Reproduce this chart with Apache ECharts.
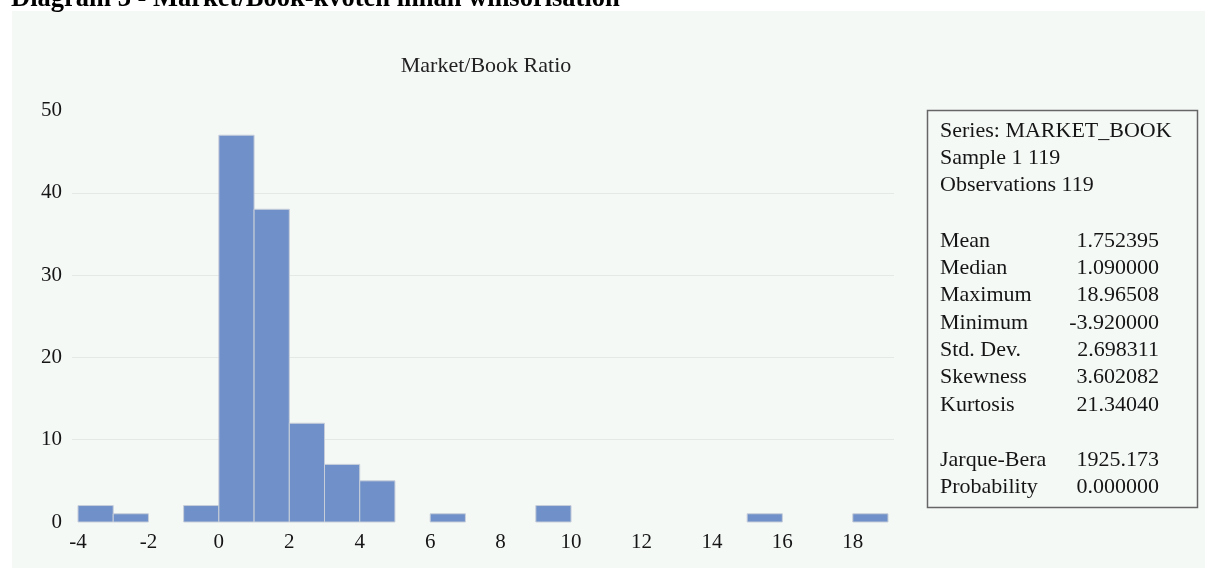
<!DOCTYPE html>
<html>
<head>
<meta charset="utf-8">
<script src="https://cdn.jsdelivr.net/npm/echarts@6/dist/echarts.min.js"></script>
<style>
  html, body { margin: 0; padding: 0; background: #ffffff; }
  #panel { position: absolute; left: 12px; top: 11px; width: 1193px; height: 557px; background: #f5f9f6; }
  #chart { position: absolute; left: 0; top: 0; width: 1205px; height: 569px; }
</style>
</head>
<body>
<div id="panel"></div>
<div id="chart"></div>
<script>
// Histogram bins (width 1) and their counts
const binStart = [-4, -3, -1, 0, 1, 2, 3, 4, 6, 9, 15, 18];
const binCount = [2, 1, 2, 47, 38, 12, 7, 5, 1, 2, 1, 1];
const binWidth = 1;

// Axis tick labels
const xTicks = [-4, -2, 0, 2, 4, 6, 8, 10, 12, 14, 16, 18];

// Descriptive statistics block
const headerLines = ['Series: MARKET_BOOK', 'Sample 1 119', 'Observations 119'];
const statNames = ['Mean', 'Median', 'Maximum', 'Minimum', 'Std. Dev.', 'Skewness', 'Kurtosis'];
const statValues = ['1.752395', '1.090000', '18.96508', '-3.920000', '2.698311', '3.602082', '21.34040'];
const testNames = ['Jarque-Bera', 'Probability'];
const testValues = ['1925.173', '0.000000'];

const FONT = '"Liberation Serif", "DejaVu Serif", serif';
const TXT = '#151515';
const chart = echarts.init(document.getElementById('chart'), null, { renderer: 'canvas' });

const histData = binStart.map((s, i) => [s, s + binWidth, binCount[i]]);

// Text elements for the statistics box
const boxText = [];
const lineH = 27.3;
const boxFont = '22px ' + FONT;
function leftText(t, y) {
  return { type: 'text', left: 940, top: y, style: { text: t, font: boxFont, fill: TXT } };
}
function rightText(t, y) {
  return { type: 'text', right: 1205 - 1159, top: y, style: { text: t, font: boxFont, fill: TXT } };
}
headerLines.forEach((t, i) => boxText.push(leftText(t, 120 + i * lineH)));
statNames.forEach((t, i) => {
  const y = 230 + i * lineH;
  boxText.push(leftText(t, y), rightText(statValues[i], y));
});
testNames.forEach((t, i) => {
  const y = 449 + i * lineH;
  boxText.push(leftText(t, y), rightText(testValues[i], y));
});

chart.setOption({
  backgroundColor: 'transparent',
  animation: false,
  title: {
    text: 'Market/Book Ratio',
    left: 481, top: 50,
    textAlign: 'center',
    textStyle: { fontFamily: FONT, fontSize: 22, fontWeight: 'normal', color: '#222' }
  },
  grid: { left: 72, right: 311, top: 110.5, bottom: 47 },
  xAxis: {
    type: 'value',
    min: -4.17, max: 19.17,
    axisLine: { show: false },
    axisTick: { show: false },
    splitLine: { show: false },
    axisLabel: {
      customValues: xTicks,
      margin: 10,
      fontFamily: FONT, fontSize: 21, color: TXT
    }
  },
  yAxis: {
    type: 'value',
    min: 0, max: 50, interval: 10,
    axisLine: { show: false },
    axisTick: { show: false },
    axisLabel: { margin: 10, fontFamily: FONT, fontSize: 21, color: TXT },
    splitLine: { show: true, showMinLine: false, showMaxLine: false, lineStyle: { color: '#e4e9e5', width: 1 } }
  },
  series: [{
    type: 'custom',
    data: histData,
    encode: { x: [0, 1], y: 2 },
    renderItem: function (params, api) {
      const p0 = api.coord([api.value(0), api.value(2)]);
      const p1 = api.coord([api.value(1), 0]);
      return {
        type: 'rect',
        shape: { x: p0[0], y: p0[1], width: p1[0] - p0[0], height: p1[1] - p0[1] },
        style: { fill: '#6f90c8', stroke: '#c8cfda', lineWidth: 1 }
      };
    }
  }],
  graphic: [
    { type: 'text', left: 11, top: -14,
      style: { text: 'Diagram 3 - Market/Book-kvoten innan winsorisation', font: 'bold 26.5px ' + FONT, fill: '#000' } },
    { type: 'rect', shape: { x: 927.5, y: 110.5, width: 270, height: 397 },
      style: { fill: 'transparent', stroke: '#666', lineWidth: 1.5 } }
  ].concat(boxText)
});
</script>
</body>
</html>
